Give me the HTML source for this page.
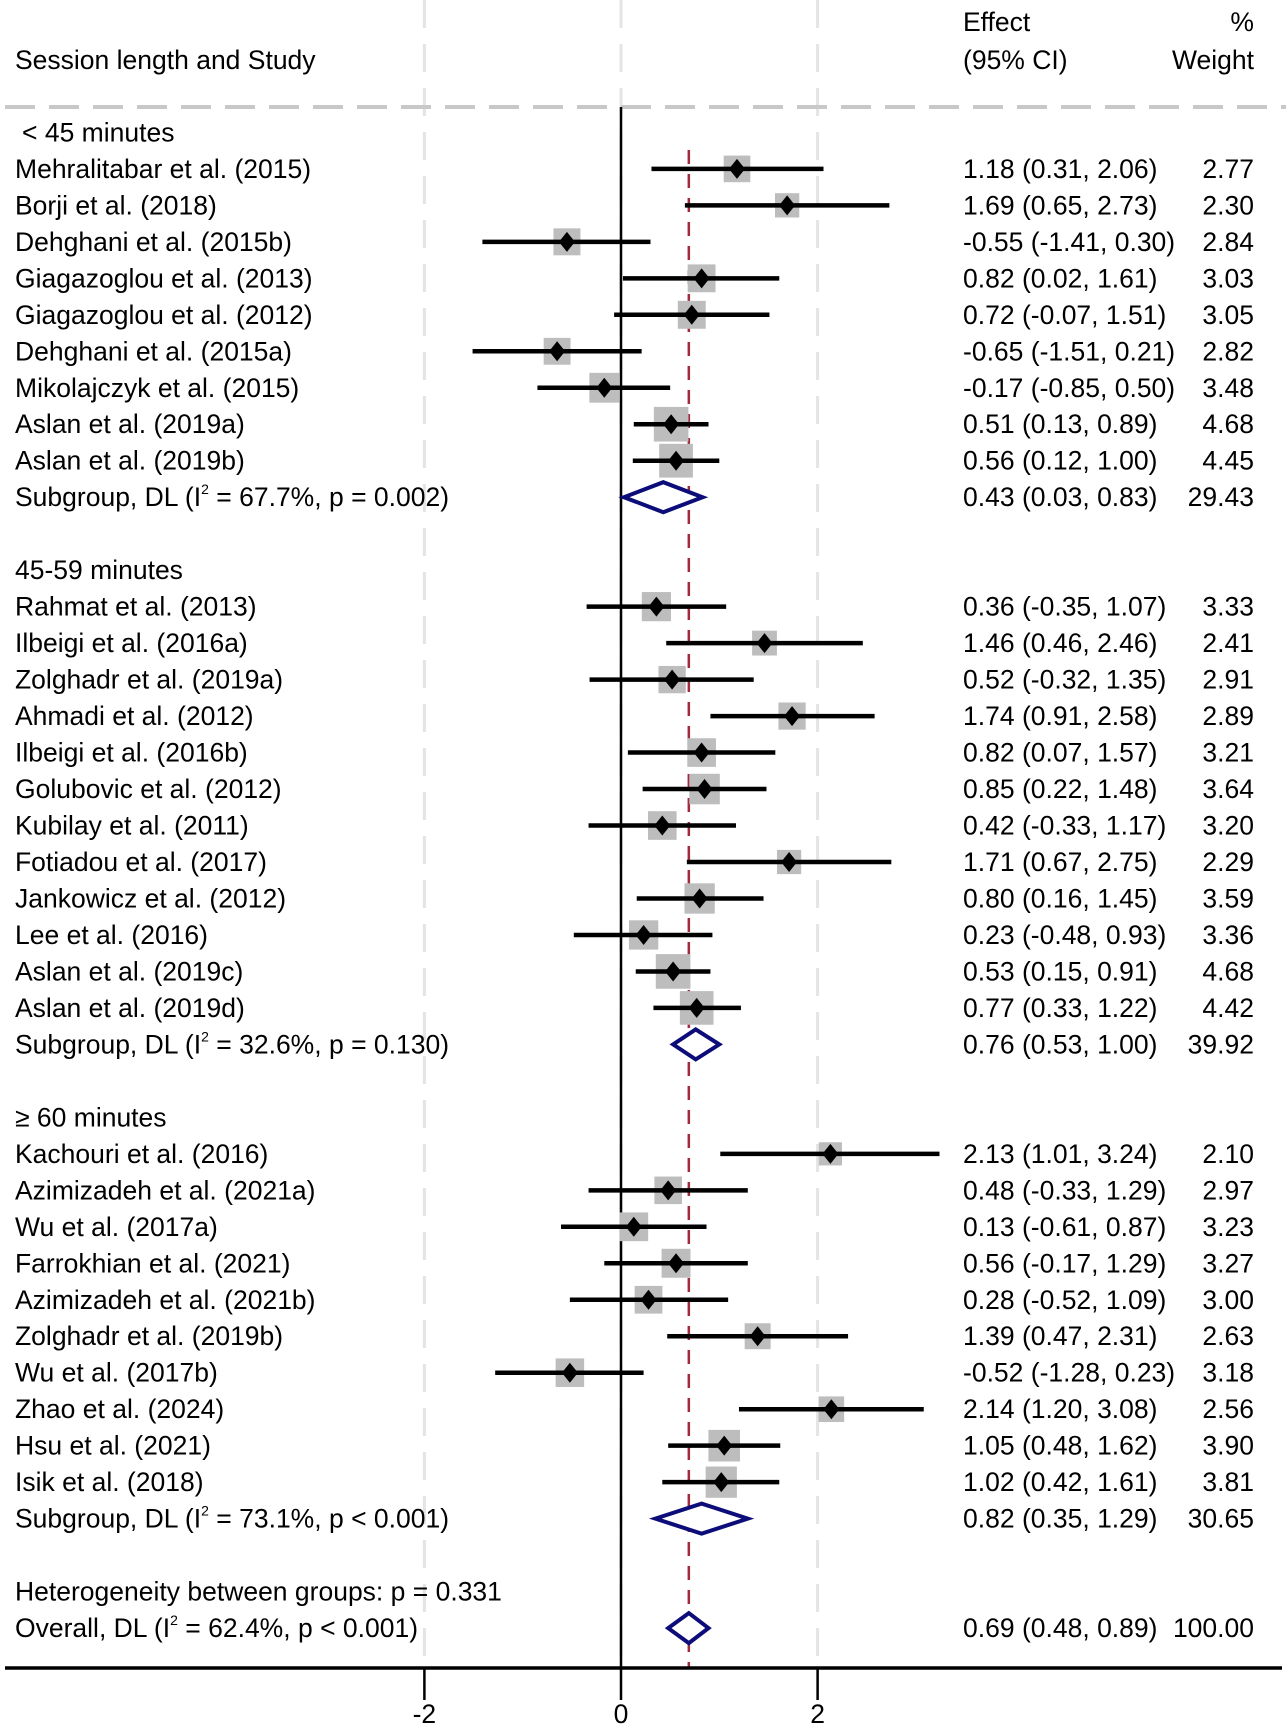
<!DOCTYPE html>
<html><head><meta charset="utf-8"><style>
body{margin:0;background:#fff;}
svg{display:block;font-family:"Liberation Sans",Arial,sans-serif;}
</style></head><body>
<svg id="c" width="1286" height="1731"></svg>
<script>
const labels=["Mehralitabar et al. (2015)","Borji et al. (2018)","Dehghani et al. (2015b)","Giagazoglou et al. (2013)","Giagazoglou et al. (2012)","Dehghani et al. (2015a)","Mikolajczyk et al. (2015)","Aslan et al. (2019a)","Aslan et al. (2019b)",
"Rahmat et al. (2013)","Ilbeigi et al. (2016a)","Zolghadr et al. (2019a)","Ahmadi et al. (2012)","Ilbeigi et al. (2016b)","Golubovic et al. (2012)","Kubilay et al. (2011)","Fotiadou et al. (2017)","Jankowicz et al. (2012)","Lee et al. (2016)","Aslan et al. (2019c)","Aslan et al. (2019d)",
"Kachouri et al. (2016)","Azimizadeh et al. (2021a)","Wu et al. (2017a)","Farrokhian et al. (2021)","Azimizadeh et al. (2021b)","Zolghadr et al. (2019b)","Wu et al. (2017b)","Zhao et al. (2024)","Hsu et al. (2021)","Isik et al. (2018)"];
const groupIdx=[0,0,0,0,0,0,0,0,0,1,1,1,1,1,1,1,1,1,1,1,1,2,2,2,2,2,2,2,2,2,2];
const est=[1.18,1.69,-0.55,0.82,0.72,-0.65,-0.17,0.51,0.56,0.36,1.46,0.52,1.74,0.82,0.85,0.42,1.71,0.80,0.23,0.53,0.77,2.13,0.48,0.13,0.56,0.28,1.39,-0.52,2.14,1.05,1.02];
const lo=[0.31,0.65,-1.41,0.02,-0.07,-1.51,-0.85,0.13,0.12,-0.35,0.46,-0.32,0.91,0.07,0.22,-0.33,0.67,0.16,-0.48,0.15,0.33,1.01,-0.33,-0.61,-0.17,-0.52,0.47,-1.28,1.20,0.48,0.42];
const hi=[2.06,2.73,0.30,1.61,1.51,0.21,0.50,0.89,1.00,1.07,2.46,1.35,2.58,1.57,1.48,1.17,2.75,1.45,0.93,0.91,1.22,3.24,1.29,0.87,1.29,1.09,2.31,0.23,3.08,1.62,1.61];
const weight=[2.77,2.30,2.84,3.03,3.05,2.82,3.48,4.68,4.45,3.33,2.41,2.91,2.89,3.21,3.64,3.20,2.29,3.59,3.36,4.68,4.42,2.10,2.97,3.23,3.27,3.00,2.63,3.18,2.56,3.90,3.81];
const groupNames=["< 45 minutes","45-59 minutes","\u2265 60 minutes"];
const subEst=[0.43,0.76,0.82], subLo=[0.03,0.53,0.35], subHi=[0.83,1.00,1.29], subW=["29.43","39.92","30.65"];
const subI2=["67.7%","32.6%","73.1%"], subP=["p = 0.002","p = 0.130","p < 0.001"];
const overall=[0.69,0.48,0.89];
const ticks=[-2,0,2];

const NS="http://www.w3.org/2000/svg", svg=document.getElementById('c');
const X=v=>621+v*98.3;
const Y=k=>132.4+36.48*k;
function el(t,a,p){const e=document.createElementNS(NS,t);for(const k in a)e.setAttribute(k,a[k]);(p||svg).appendChild(e);return e;}
function txt(s,x,y,anchor,name){const e=el('text',{x:x,y:y+9,'font-size':26.5,fill:'#000','text-anchor':anchor||'start'});e.textContent=s;

return e;}
const f=v=>v.toFixed(2);
ticks.forEach(t=>{const g=el('line',{x1:X(t),x2:X(t),y1:0,y2:1660,stroke:'#e4e4e4','stroke-width':3,'stroke-dasharray':'28 16'});

});
txt("Session length and Study",15,60,'start','header-study');
txt("Effect",963,22,'start','header-effect');
txt("(95% CI)",963,60,'start','header-ci');
txt("%",1254,22,'end','header-pct');
txt("Weight",1254,60,'end','header-weight');
const hl=el('line',{x1:5,x2:1286,y1:107,y2:107,stroke:'#c8c8c8','stroke-width':4,'stroke-dasharray':'30 14'});


const zl=el('line',{x1:X(0),x2:X(0),y1:107,y2:1668,stroke:'#000','stroke-width':2.5});


const ol=el('line',{x1:X(overall[0]),x2:X(overall[0]),y1:150,y2:1668,stroke:'#a32a3c','stroke-width':2.5,'stroke-dasharray':'14 10'});


function diamond(e,l,h,y,name){const p=el('polygon',{points:`${X(l)},${y} ${X(e)},${y-15} ${X(h)},${y} ${X(e)},${y+15}`,fill:'#fff',stroke:'#0d0d7a','stroke-width':4});

}
let row=0;
for(let g=0;g<3;g++){
  txt(groupNames[g],g==0?22:15,Y(row),'start','group-header');row++;
  for(let i=0;i<labels.length;i++){ if(groupIdx[i]!==g)continue;
    const y=Y(row);
    txt(labels[i],15,y,'start','study-label');
    const s=16*Math.sqrt(weight[i]);
    const b=el('rect',{x:X(est[i])-s/2,y:y-s/2,width:s,height:s,fill:'#bdbdbd'});
    
    
    const l=el('line',{x1:X(lo[i]),x2:X(hi[i]),y1:y,y2:y,stroke:'#000','stroke-width':4.5});
    
    
    const m=el('polygon',{points:`${X(est[i])-8},${y} ${X(est[i])},${y-10} ${X(est[i])+8},${y} ${X(est[i])},${y+10}`,fill:'#000'});
    
    
    txt(`${f(est[i])} (${f(lo[i])}, ${f(hi[i])})`,963,y,'start','effect-ci');
    txt(f(weight[i]),1254,y,'end','weight-value');
    row++;
  }
  const y=Y(row);
  const t=txt("",15,y,'start','subgroup-label');
  t.innerHTML=`Subgroup, DL (I<tspan font-size="14" dy="-12">2</tspan><tspan dy="12"> = ${subI2[g]}, ${subP[g]})</tspan>`;
  diamond(subEst[g],subLo[g],subHi[g],y,'subgroup-diamond');
  txt(`${f(subEst[g])} (${f(subLo[g])}, ${f(subHi[g])})`,963,y,'start','subgroup-effect');
  txt(subW[g],1254,y,'end','subgroup-weight');
  row+=2;
}
txt("Heterogeneity between groups: p = 0.331",15,Y(40),'start','heterogeneity-label');
const ot=txt("",15,Y(41),'start','overall-label');
ot.innerHTML=`Overall, DL (I<tspan font-size="14" dy="-12">2</tspan><tspan dy="12"> = 62.4%, p &lt; 0.001)</tspan>`;
diamond(overall[0],overall[1],overall[2],Y(41),'overall-diamond');
txt(`${f(overall[0])} (${f(overall[1])}, ${f(overall[2])})`,963,Y(41),'start','overall-effect');
txt("100.00",1254,Y(41),'end','overall-weight');
const ax=el('line',{x1:5,x2:1282,y1:1668,y2:1668,stroke:'#000','stroke-width':3.5});


ticks.forEach(t=>{const k=el('line',{x1:X(t),x2:X(t),y1:1668,y2:1700,stroke:'#000','stroke-width':2.5});


txt(String(t),X(t),1714,'middle','x-tick-label');});
</script>
</body></html>
